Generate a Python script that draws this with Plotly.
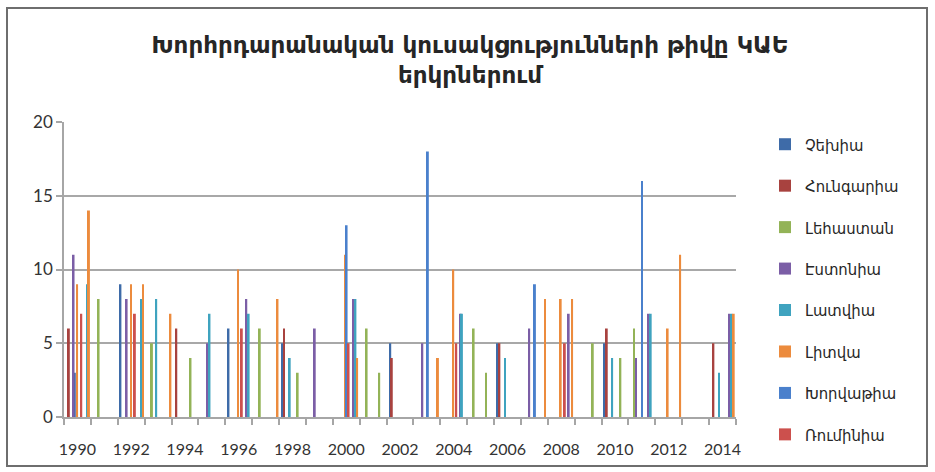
import plotly.graph_objects as go

# ---- data (election dates and number of parliamentary parties) ----
series_names = ["Չեխիա", "Հունգարիա", "Լեհաստան", "Էստոնիա",
                "Լատվիա", "Լիտվա", "Խորվաթիա", "Ռումինիա"]

czech_dates = ["1990-05-28", "1992-02-07", "1996-02-14", "1998-02-15",
               "2002-02-20", "2006-02-17", "2010-02-07"]
czech_vals = [3, 9, 6, 5, 5, 5, 5]

hungary_dates = ["1990-03-08", "1994-03-07", "1998-03-10", "2002-03-13",
                 "2006-03-14", "2010-03-12", "2014-02-28"]
hungary_vals = [6, 6, 6, 4, 5, 6, 5]

poland_dates = ["1991-04-16", "1993-04-10", "1994-09-16", "1997-04-14",
                "1998-09-11", "2001-04-05", "2001-09-23", "2005-03-29",
                "2005-09-13", "2009-09-03", "2010-09-13", "2011-03-17"]
poland_vals = [8, 5, 4, 6, 3, 6, 3, 6, 3, 5, 4, 6]

estonia_dates = ["1990-05-11", "1992-05-01", "1995-04-28", "1996-10-13",
                 "1999-05-01", "2000-10-10", "2003-05-02", "2004-10-04",
                 "2007-04-23", "2008-10-11", "2011-04-13", "2011-09-30",
                 "2014-09-29"]
estonia_vals = [11, 8, 5, 8, 6, 8, 5, 7, 6, 7, 4, 7, 7]

latvia_dates = ["1990-11-21", "1992-11-16", "1993-06-07", "1995-06-01",
                "1996-11-14", "1998-05-26", "2000-11-04", "2004-10-21",
                "2006-05-30", "2010-05-24", "2011-10-30", "2014-05-16",
                "2014-10-31"]
latvia_vals = [9, 8, 8, 7, 7, 4, 8, 7, 4, 4, 7, 3, 7]

lithuania_dates = ["1990-06-28", "1990-12-06", "1992-06-29", "1992-12-09",
                   "1993-12-17", "1996-06-23", "1997-12-11", "2000-06-20",
                   "2000-11-27", "2003-11-30", "2004-06-25", "2007-11-24",
                   "2008-06-24", "2008-11-26", "2012-06-16", "2012-12-03",
                   "2014-12-01"]
lithuania_vals = [9, 14, 9, 9, 7, 10, 8, 11, 4, 4, 10, 8, 8, 8, 6, 11, 7]

croatia_dates = ["2000-07-07", "2003-07-16", "2007-07-10", "2011-07-04"]
croatia_vals = [13, 18, 9, 16]

romania_dates = ["1990-08-24", "1992-08-21", "1996-08-13", "2000-08-03",
                 "2004-08-05", "2008-08-19"]
romania_vals = [7, 7, 6, 5, 5, 5]

years = list(range(1990, 2015))
label_years = list(range(1990, 2015, 2))
y_ticks = [0, 5, 10, 15, 20]

title_line1 = "Խորհրդարանական կուսակցությունների թիվը ԿԱԵ"
title_line2 = "երկրներում"

# ---- styling ----
colors = ["#3E6BA8", "#A8423F", "#93B357", "#7B5EA6",
          "#3FA3BF", "#EC8B3D", "#4A80CC", "#CC504D"]

all_series = [
    (czech_dates, czech_vals), (hungary_dates, hungary_vals),
    (poland_dates, poland_vals), (estonia_dates, estonia_vals),
    (latvia_dates, latvia_vals), (lithuania_dates, lithuania_vals),
    (croatia_dates, croatia_vals), (romania_dates, romania_vals),
]

DAY_MS = 86400000
bar_w = 26 * DAY_MS

fig = go.Figure()
for i, (name, (d, v)) in enumerate(zip(series_names, all_series)):
    fig.add_trace(go.Bar(
        x=d, y=v, name=name, legendgroup=name,
        marker=dict(color=colors[i], line=dict(width=0)),
        width=[bar_w] * len(d),
    ))

W, H = 935, 472
L, R, T, B = 64, 199, 122, 55
pw, ph = W - L - R, H - T - B

def px_x(p):
    return (p - L) / pw

def px_y(p):
    return (H - B - p) / ph

fig.update_layout(
    width=W, height=H,
    margin=dict(l=L, r=R, t=T, b=B, autoexpand=False),
    paper_bgcolor="white", plot_bgcolor="white",
    barmode="overlay",
    title=dict(text=f"<b>{title_line1}</b><br><b>{title_line2}</b>",
               x=470 / W, xanchor="center",
               y=1 - 53 / H, yanchor="top",
               font=dict(family="DejaVu Sans, sans-serif", size=23,
                         color="#262626")),
    legend=dict(x=px_x(765), y=px_y(127), xanchor="left", yanchor="top",
                tracegroupgap=17, maxheight=440,
                font=dict(family="DejaVu Sans Condensed, DejaVu Sans, sans-serif",
                          size=16.5, color="#262626"),
                bgcolor="rgba(0,0,0,0)"),
    showlegend=True,
    xaxis=dict(
        type="date",
        range=["1990-01-01", "2015-01-01"],
        tickvals=[f"{y}-07-02" for y in label_years],
        ticktext=[str(y) for y in label_years],
        ticks="",
        ticklabelstandoff=17,
        showgrid=False,
        showline=True, linecolor="#A6A6A6", linewidth=1.5,
        tickfont=dict(family="Lato, Liberation Sans, sans-serif", size=16,
                      color="#333333"),
        minor=dict(tickvals=[f"{y}-01-01" for y in years + [2015]],
                   ticks="outside", ticklen=6, tickcolor="#A6A6A6",
                   tickwidth=1.5, showgrid=False),
        fixedrange=True,
    ),
    yaxis=dict(
        range=[0, 20],
        tickvals=y_ticks,
        showgrid=True, gridcolor="#A8A8A8", gridwidth=1.5,
        showline=True, linecolor="#A6A6A6", linewidth=1.5,
        ticks="outside", ticklen=6, tickcolor="#A6A6A6", tickwidth=1.5,
        zeroline=False,
        tickfont=dict(family="Lato, Liberation Sans, sans-serif", size=17,
                      color="#333333"),
        fixedrange=True,
    ),
)

# chart frame
fig.add_shape(type="rect", xref="paper", yref="paper",
              x0=px_x(7), x1=px_x(927), y0=px_y(466), y1=px_y(8),
              line=dict(color="#6E6E6E", width=2), fillcolor="rgba(0,0,0,0)",
              layer="below")

fig.write_html("out.html",
               config={"displayModeBar": False},
               post_script="document.body.style.margin='0';"
                           "document.body.style.overflow='hidden';")
